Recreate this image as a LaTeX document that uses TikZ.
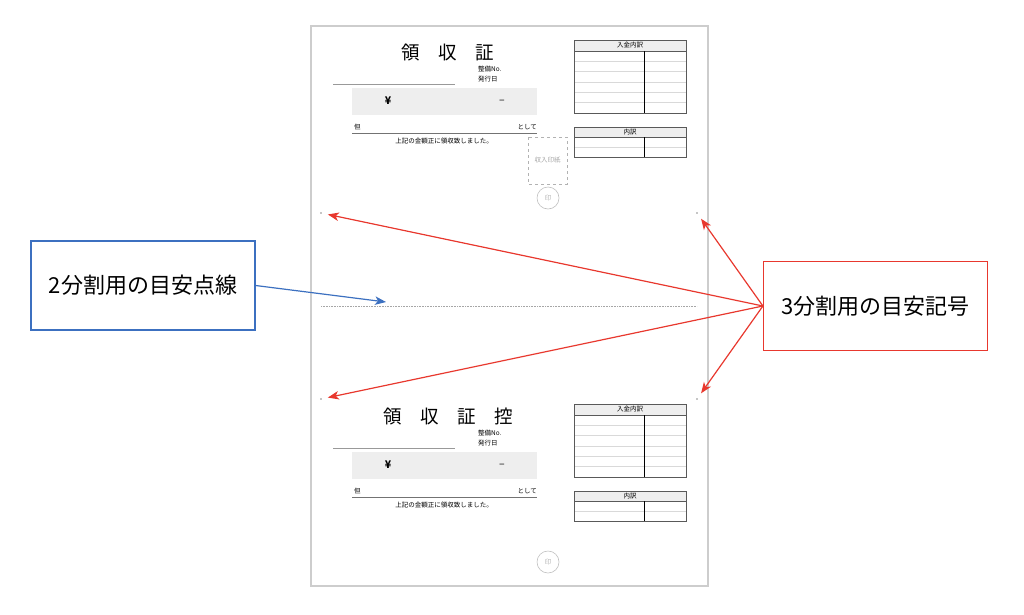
\documentclass[tikz,border=0pt]{standalone}
\usepackage{fontspec}
\setmainfont{Noto Sans CJK JP}
\usetikzlibrary{arrows.meta,positioning}

\definecolor{pagegray}{RGB}{205,205,205}
\definecolor{fillgray}{RGB}{238,238,238}
\definecolor{callblue}{RGB}{60,112,192}
\definecolor{callred}{RGB}{232,56,46}

\begin{document}
\begin{tikzpicture}[x=1pt,y=-1pt,>={Stealth[length=11pt,width=8.5pt,inset=3pt]},
    callout/.style={draw,line width=1.2pt,minimum width=224pt,minimum height=89pt,
      inner sep=0pt,font=\fontsize{22}{26}\selectfont},
    tiny/.style={inner sep=0pt,font=\fontsize{6.5}{8}\selectfont},
    tblline/.style={draw=black!65,line width=0.9pt},
    rowline/.style={draw=black!15,line width=0.5pt},
    guidedot/.style={circle,fill=black!45,inner sep=0pt,minimum size=1.6pt}]
    \useasboundingbox (0,0) rectangle (1024,614);

    % sheet
    \draw[pagegray,line width=1.5pt] (311,26) rectangle (708,586);

    % receipt and its copy
    \foreach \dy/\ttl in {0/{領　収　証},364/{領　収　証　控}} {
      \begin{scope}[yshift=-\dy pt]
        \node[inner sep=0pt,font=\fontsize{18.5}{20}\selectfont] (title) at (448,52) {\ttl};
        \node[tiny,anchor=west] (no)   at (478,69) {整備No.};
        \node[tiny,anchor=west] (date) at (478,79) {発行日};
        \draw[black!40,line width=0.8pt] (333,84) -- (455,84);
        \fill[fillgray] (352,88) rectangle (537,115);
        \node[inner sep=0pt,font=\fontsize{10.5}{12}\selectfont\bfseries] (yen)  at (388,101) {¥};
        \node[inner sep=0pt,font=\fontsize{10.5}{12}\selectfont] (dash) at (502,101.5) {–};
        \node[tiny,anchor=west] (tada) at (354,127) {但};
        \node[tiny,anchor=east] (toshite) at (537,127) {として};
        \draw[black!55,line width=0.8pt] (352,133) -- (537,133);
        \node[tiny] (receipt) at (444,141) {上記の金額正に領収致しました。};
        \draw[black!25,line width=0.6pt] (548,198) circle (11);
        \node[tiny,text=black!30] (seal) at (548,198) {印};

        % deposit breakdown
        \draw[tblline,fill=fillgray] (574,40) rectangle (686,51);
        \node[tiny] (deposit) at (630,45.5) {入金内訳};
        \foreach \r in {61.3,71.7,82,92.3,102.7}
          \draw[rowline] (574,\r) -- (686,\r);
        \draw[tblline] (574,51) rectangle (686,113);
        \draw[black,line width=0.9pt] (644,51) -- (644,113);

        % breakdown
        \draw[tblline,fill=fillgray] (574,127) rectangle (686,137);
        \node[tiny] (detail) at (630,132) {内訳};
        \draw[rowline] (574,147) -- (686,147);
        \draw[tblline] (574,137) rectangle (686,157);
        \draw[black,line width=0.9pt] (644,137) -- (644,157);
      \end{scope}
    }

    % revenue stamp, top only
    \draw[black!30,dashed,line width=0.6pt] (528,137) rectangle (567,184);
    \node[tiny,text=black!35] (stamp) at (547.5,160) {収入印紙};

    % guide marks
    \node[guidedot] (d1) at (321,213) {};
    \node[guidedot] (d2) at (697,213) {};
    \node[guidedot] (d3) at (321,399) {};
    \node[guidedot] (d4) at (697,399) {};
    \coordinate (fl) at (321,306);
    \coordinate (fr) at (697,306);
    \draw[black!35,densely dotted,line width=0.6pt] (fl) -- (fr);
    \coordinate (half) at (386,302);

    % callouts
    \node[callout,draw=callblue] (two)   at (143,285.5) {2分割用の目安点線};
    \node[callout,draw=callred]  (three) at (875.5,306) {3分割用の目安記号};

    \draw[->,callblue,line width=1.2pt] (two.east) -- (half);
    \path[->,callred,line width=1.2pt,shorten >=6pt]
      (three.west) edge (d1)
                   edge (d2)
                   edge (d3)
                   edge (d4);
\end{tikzpicture}
\end{document}
